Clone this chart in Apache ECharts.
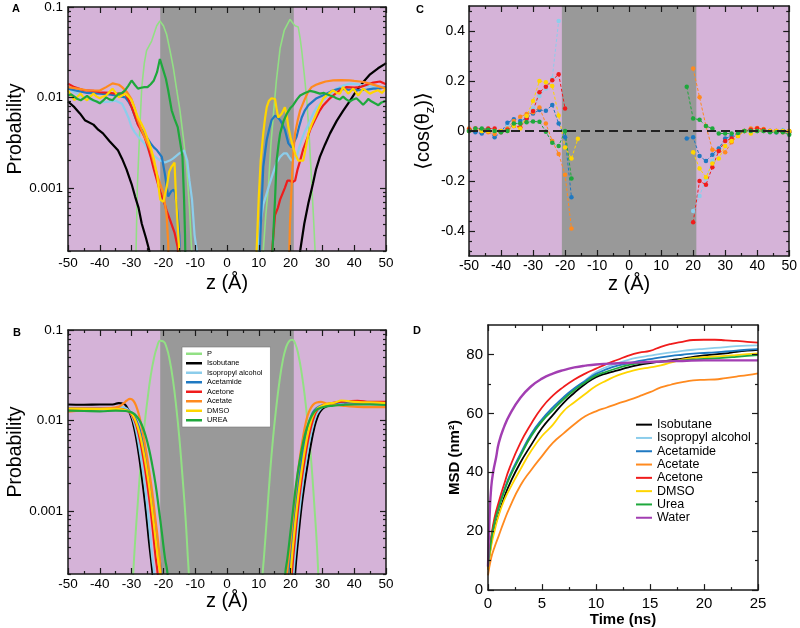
<!DOCTYPE html>
<html><head><meta charset="utf-8">
<script src="https://cdn.jsdelivr.net/npm/echarts@6/dist/echarts.min.js"></script>
<style>html,body{margin:0;padding:0;background:#fff}#c{width:800px;height:628px}</style>
</head><body><div id="c"></div>
<script>
// ---------------- colours ----------------
const C_P='#92e084', C_ISO='#000000', C_IPA='#8ccdeb', C_AMD='#1f79c2', C_ACN='#f01c1c', C_ACT='#ff8a1f', C_DMSO='#ffd500', C_UREA='#1ea83c', C_WAT='#a23eb2';
const PURPLE='#d5b3d8', GRAY='#999999';
const BAND=[-21,21];
// ---------------- tick / label values ----------------
const LOG_MAJOR=[0.001,0.01,0.1];
const LOG_MINOR=[0.0002,0.0003,0.0004,0.0005,0.0006,0.0007,0.0008,0.0009,0.002,0.003,0.004,0.005,0.006,0.007,0.008,0.009,0.02,0.03,0.04,0.05,0.06,0.07,0.08,0.09];
const C_Y_MAJOR=[-0.4,-0.2,0,0.2,0.4];
const C_Y_MINOR=[-0.48,-0.44,-0.36,-0.32,-0.28,-0.24,-0.16,-0.12,-0.08,-0.04,0.04,0.08,0.12,0.16,0.24,0.28,0.32,0.36,0.44,0.48];
const D_Y_MAJOR=[0,20,40,60,80];
const D_Y_MINOR=[10,30,50,70];
const B_LEGEND=['P','Isobutane','Isopropyl alcohol','Acetamide','Acetone','Acetate','DMSO','UREA'];
const D_LEGEND=['Isobutane','Isopropyl alcohol','Acetamide','Acetate','Acetone','DMSO','Urea','Water'];

// ---------------- Panel A : probability vs z ----------------
const A_P=[[-29,0.0001],[-28.6,0.0002],[-28.2,0.001],[-27.4,0.0047],[-26.8,0.013],[-26,0.024],[-25.3,0.033],[-23.7,0.042],[-22.1,0.062],[-21.1,0.07],[-20,0.062],[-19,0.05],[-18,0.034],[-16.9,0.0215],[-15.8,0.012],[-14.8,0.0072],[-13.7,0.0035],[-12.7,0.0017],[-11.8,0.0006],[-11.1,0.0002],[-10.8,0.0001],
 [11,0.0001],[11.4,0.0002],[12.2,0.0005],[13,0.001],[13.8,0.003],[14.6,0.0065],[15.5,0.015],[16.7,0.035],[18,0.055],[19.8,0.073],[20.5,0.068],[21.4,0.062],[22.4,0.06],[23,0.045],[23.5,0.033],[24.3,0.018],[25.1,0.0093],[25.8,0.004],[26.6,0.0012],[27.3,0.0004],[27.7,0.0002],[28,0.0001]];
const A_ISO=[[-50,0.009],[-49.4,0.0088],[-48,0.0078],[-46.2,0.0066],[-44.7,0.0056],[-42,0.005],[-40.5,0.0044],[-39,0.004],[-37,0.0033],[-34.3,0.0026],[-33,0.0021],[-31.6,0.0016],[-30,0.0011],[-28.9,0.0008],[-27.8,0.0006],[-26.8,0.0004],[-25.5,0.00028],[-24.4,0.0002],[-24,0.0001],
 [22.5,0.0001],[23,0.0002],[24.3,0.0004],[25.6,0.00068],[27,0.0011],[28,0.0016],[29.2,0.0022],[30.8,0.003],[32.4,0.004],[34.5,0.0055],[36.5,0.0071],[38.5,0.009],[40.8,0.012],[43,0.015],[45,0.018],[47.5,0.021],[49.7,0.0235],[50,0.024]];
const A_IPA=[[-50,0.0125],[-47,0.011],[-45,0.0099],[-42,0.0092],[-40,0.0088],[-37,0.009],[-35,0.0092],[-33,0.0085],[-32,0.0072],[-31,0.006],[-30,0.0047],[-29,0.0041],[-28,0.0037],[-27,0.0034],[-26,0.0031],[-25,0.0027],[-24,0.0024],[-22.5,0.0022],[-21,0.002],[-19.5,0.0019],[-18,0.002],[-17,0.0021],[-15,0.0024],[-13.5,0.0026],[-12.5,0.002],[-11.8,0.0012],[-11,0.00074],[-10.2,0.0003],[-9.5,0.0002],[-9.3,0.0001],
 [9.6,0.0001],[9.8,0.0002],[10.5,0.0004],[11.4,0.00065],[13,0.001],[14.6,0.0015],[15.6,0.0019],[16.7,0.0022],[17.8,0.0024],[18.8,0.0024],[19.5,0.0022],[20.3,0.002],[21.1,0.0021],[21.9,0.0022],[22.7,0.0028],[23.5,0.0034],[24.5,0.0042],[25.6,0.005],[27,0.0065],[28.2,0.0078],[30.8,0.0098],[32.5,0.011],[34.4,0.0125],[36.5,0.0135],[38.6,0.0142],[41,0.014],[43.9,0.0133],[47,0.013],[50,0.0128]];
const A_AMD=[[-50,0.0125],[-47,0.0118],[-44,0.0112],[-40,0.011],[-37,0.0108],[-35,0.0105],[-32,0.01],[-31,0.009],[-30,0.0078],[-29,0.0062],[-28,0.005],[-27,0.0045],[-26,0.004],[-25,0.0035],[-24,0.0031],[-23,0.0028],[-22,0.0026],[-20.5,0.0022],[-19.5,0.0014],[-18.5,0.0008],[-17.5,0.00092],[-16.8,0.00095],[-16.3,0.00088],[-15.5,0.0005],[-15,0.0003],[-14.6,0.0001],
 [10.1,0.0001],[10.5,0.0003],[11,0.0008],[11.4,0.0017],[12,0.0025],[12.5,0.0034],[13.3,0.0045],[14,0.0056],[15.1,0.0063],[16,0.006],[16.7,0.0056],[17.5,0.005],[18.2,0.0044],[19.3,0.0031],[20.3,0.0028],[21.1,0.0032],[21.9,0.0037],[22.7,0.0048],[23.5,0.006],[24.5,0.0072],[25.6,0.0082],[28.2,0.0098],[31.3,0.011],[33,0.0118],[35.5,0.0125],[38,0.0122],[41.8,0.012],[44,0.0122],[46,0.0125],[48,0.0126],[50,0.013]];
const A_ACN=[[-50,0.0142],[-48,0.013],[-45,0.012],[-42,0.0118],[-40,0.0114],[-37,0.0112],[-35,0.011],[-32,0.011],[-31,0.0095],[-30,0.0078],[-29,0.0063],[-28,0.005],[-27,0.0043],[-26,0.0037],[-25,0.0029],[-24,0.0022],[-23,0.0016],[-22,0.0012],[-21,0.0009],[-20,0.00074],[-19,0.00056],[-18,0.00045],[-16.5,0.00032],[-15.5,0.00022],[-15,0.0001],
 [13.5,0.0001],[14.6,0.0003],[15.1,0.0005],[16,0.0006],[16.7,0.00074],[18.2,0.001],[19,0.0012],[19.8,0.0012],[20.5,0.00115],[21.4,0.0012],[22.2,0.0016],[23,0.002],[24,0.0027],[25.1,0.0034],[26.3,0.0045],[27.6,0.0056],[29,0.007],[30.3,0.0082],[32,0.0095],[33.4,0.0105],[35.5,0.012],[37.6,0.013],[40,0.0128],[41.8,0.013],[44,0.0138],[46,0.0146],[48.1,0.015],[50,0.014]];
const A_ACT=[[-50,0.013],[-47,0.0125],[-44,0.012],[-40,0.0119],[-38,0.013],[-36,0.0143],[-34,0.0138],[-33,0.013],[-31.5,0.0115],[-30,0.0095],[-29,0.0075],[-28,0.0056],[-27,0.0045],[-26,0.0037],[-25,0.0031],[-24,0.0026],[-23,0.0019],[-22,0.0014],[-21,0.0011],[-20,0.00088],[-19,0.0005],[-18.5,0.00025],[-18.2,0.0001],
 [19.4,0.0001],[19.8,0.0004],[20.3,0.001],[20.6,0.0017],[21,0.0028],[21.4,0.004],[22.2,0.0055],[23,0.0072],[24.6,0.0098],[25.5,0.0115],[26.6,0.013],[28,0.0138],[29.2,0.0143],[31,0.015],[33.4,0.0154],[36,0.0155],[38.6,0.0154],[40,0.0152],[41.8,0.015],[43,0.0148],[44.9,0.0142],[47,0.0135],[50,0.0125]];
const A_DMSO=[[-50,0.012],[-49,0.0105],[-48,0.0093],[-47,0.0102],[-46,0.011],[-45,0.0098],[-44,0.0093],[-43,0.0102],[-42,0.011],[-41,0.0102],[-40,0.0098],[-39,0.0102],[-38,0.0105],[-37,0.0115],[-36,0.0125],[-35,0.0112],[-34,0.01],[-33,0.0105],[-32,0.011],[-31,0.0102],[-30,0.0093],[-29,0.0075],[-28,0.006],[-27,0.0052],[-26,0.0044],[-25,0.0035],[-24,0.0028],[-23,0.0021],[-22,0.0014],[-21,0.00074],[-20,0.0007],[-19,0.001],[-18.2,0.0015],[-17.5,0.0017],[-16.5,0.0019],[-16,0.00074],[-15.5,0.00038],[-15,0.0002],[-14.7,0.0001],
 [9.1,0.0001],[9.3,0.0002],[10,0.0008],[10.6,0.002],[11.4,0.004],[12,0.006],[12.5,0.0078],[13.2,0.0092],[14,0.0098],[15.1,0.0096],[15.6,0.0075],[16.1,0.006],[17.2,0.0066],[18.2,0.0078],[18.8,0.0062],[19.3,0.0047],[20,0.0036],[20.8,0.0028],[21.6,0.0023],[22.4,0.002],[24,0.002],[24.8,0.0028],[25.6,0.004],[26.6,0.005],[27.6,0.006],[29,0.0078],[30.3,0.0098],[32,0.011],[33.4,0.012],[34.5,0.0112],[35.5,0.011],[36.5,0.013],[38.1,0.011],[39.7,0.0125],[41.3,0.0105],[42.8,0.0125],[44.9,0.011],[46,0.0115],[47.5,0.012],[48.7,0.0112],[50,0.0125]];
const A_UREA=[[-50,0.0105],[-49,0.0108],[-48,0.0102],[-47,0.0096],[-46,0.0093],[-45,0.0098],[-44,0.0104],[-43,0.0097],[-42,0.0093],[-41,0.009],[-40,0.0086],[-39,0.0092],[-38,0.01],[-37,0.0095],[-36,0.0093],[-35,0.0102],[-34,0.011],[-33,0.0112],[-32,0.012],[-31,0.0135],[-30,0.0154],[-29,0.0138],[-28,0.0125],[-27,0.0128],[-26,0.013],[-25,0.013],[-24,0.014],[-23,0.0154],[-22,0.019],[-21.1,0.0266],[-20,0.0198],[-19.2,0.016],[-18.5,0.012],[-17.4,0.0072],[-16.5,0.0058],[-15.5,0.0047],[-14.8,0.0033],[-14,0.0022],[-13.5,0.00074],[-13.2,0.0003],[-13,0.0001],
 [14,0.0001],[14.3,0.0002],[15.1,0.00074],[15.6,0.002],[16.2,0.003],[16.7,0.004],[17.8,0.0055],[18.8,0.0066],[20,0.0077],[20.8,0.0082],[22,0.0095],[23,0.0105],[24.5,0.0112],[26.1,0.0118],[27.5,0.0115],[29.2,0.011],[30.5,0.0112],[32.4,0.0105],[33.5,0.0102],[34.4,0.0098],[35.5,0.0095],[36.5,0.0102],[37.5,0.0095],[38.6,0.009],[39.7,0.0095],[40.7,0.0098],[41.8,0.009],[42.8,0.0083],[43.8,0.009],[44.4,0.0096],[45.5,0.009],[46.5,0.0086],[47.6,0.0082],[48.6,0.0088],[50,0.0092]];

// ---------------- Panel B : probability vs z (smooth) ----------------
const B_P=[[-30,0.0001],[-29.5,0.0002],[-29,0.0004],[-28,0.0013],[-27,0.0037],[-26,0.0085],[-25,0.017],[-24,0.031],[-23,0.048],[-22,0.065],[-21,0.076],[-20,0.075],[-19,0.064],[-18,0.046],[-17,0.028],[-16,0.0145],[-15,0.0065],[-14,0.0024],[-13,0.0008],[-12.3,0.0003],[-12,0.0002],[-11.6,0.0001],
 [10.8,0.0001],[11.2,0.0002],[11.6,0.0003],[12.5,0.0008],[13.5,0.0025],[14.5,0.0065],[15.5,0.014],[16.5,0.027],[17.5,0.045],[18.5,0.063],[19.5,0.075],[20.5,0.078],[21.5,0.07],[22.5,0.052],[23.5,0.033],[24.5,0.018],[25.5,0.0085],[26.5,0.0035],[27.5,0.0011],[28.3,0.0004],[28.7,0.0002],[29,0.0001]];
const B_ISO=[[-50,0.015],[-45,0.0149],[-40,0.015],[-36,0.015],[-34,0.0155],[-32.5,0.0153],[-31.5,0.014],[-30.5,0.012],[-29.5,0.0092],[-28.5,0.0062],[-27.5,0.0037],[-26.5,0.002],[-25.5,0.001],[-24.5,0.00045],[-23.4,0.0002],[-23,0.00012],
 [21.1,0.00012],[21.4,0.0002],[22.4,0.0005],[23.4,0.0011],[24.4,0.002],[25.4,0.0034],[26.4,0.0055],[27.4,0.0082],[28.4,0.0108],[29.4,0.0127],[31,0.0142],[34,0.015],[38,0.0158],[42,0.0158],[50,0.0155]];
const B_IPA=[[-50,0.0138],[-40,0.0136],[-35,0.0137],[-33,0.014],[-31.5,0.0135],[-30.5,0.0123],[-29.5,0.0102],[-28.5,0.0075],[-27.5,0.0048],[-26.5,0.0028],[-25.5,0.0015],[-24.5,0.0007],[-23.5,0.0003],[-22.9,0.0002],[-22.6,0.00012],
 [20.6,0.00012],[20.9,0.0002],[21.9,0.0005],[22.9,0.0011],[23.9,0.0021],[24.9,0.0036],[25.9,0.0058],[26.9,0.0084],[27.9,0.011],[28.9,0.0128],[30.5,0.0143],[33,0.0152],[37,0.0158],[42,0.016],[50,0.0155]];
const B_AMD=[[-50,0.0135],[-40,0.0134],[-34,0.0133],[-32,0.0131],[-30.5,0.0126],[-29.5,0.0116],[-28.5,0.01],[-27.5,0.008],[-26.5,0.0058],[-25.5,0.0039],[-24.5,0.0024],[-23.5,0.0013],[-22.5,0.00068],[-21.5,0.00034],[-20.6,0.0002],[-20.3,0.00012],
 [19.2,0.00012],[19.5,0.0002],[20.5,0.0005],[21.5,0.0011],[22.5,0.0021],[23.5,0.0037],[24.5,0.006],[25.5,0.0087],[26.5,0.0112],[27.5,0.013],[29,0.0143],[31,0.015],[34,0.0155],[37,0.016],[40,0.016],[45,0.0158],[50,0.0155]];
const B_ACN=[[-50,0.0135],[-40,0.0135],[-34,0.0134],[-32,0.013],[-30.5,0.0122],[-29.5,0.0108],[-28.5,0.0088],[-27.5,0.0064],[-26.5,0.0042],[-25.5,0.0025],[-24.5,0.0014],[-23.5,0.0007],[-22.5,0.00032],[-21.8,0.0002],[-21.5,0.00012],
 [20.1,0.00012],[20.4,0.0002],[21.4,0.0005],[22.4,0.0011],[23.4,0.0021],[24.4,0.0036],[25.4,0.0058],[26.4,0.0084],[27.4,0.011],[28.4,0.013],[30,0.0145],[32,0.0153],[35,0.016],[38,0.0163],[41,0.0165],[45,0.016],[50,0.016]];
const B_ACT=[[-50,0.0125],[-45,0.013],[-40,0.0133],[-36,0.0138],[-34,0.0142],[-32.5,0.0155],[-31.5,0.0166],[-30.5,0.0173],[-29.5,0.0166],[-28.5,0.0142],[-27.5,0.0108],[-26.5,0.0074],[-25.5,0.0047],[-24.5,0.0028],[-23.5,0.0016],[-22.5,0.0008],[-21.5,0.0004],[-20.8,0.0002],[-20.5,0.00012],
 [18.6,0.00012],[18.9,0.0002],[19.8,0.0004],[20.8,0.0009],[21.8,0.0019],[22.8,0.0036],[23.8,0.0062],[24.8,0.0095],[25.8,0.0125],[27,0.0148],[28.2,0.0158],[29.5,0.016],[31,0.0155],[33,0.015],[36,0.0146],[40,0.0142],[45,0.014],[50,0.014]];
const B_DMSO=[[-50,0.0135],[-40,0.0134],[-34,0.0133],[-32,0.013],[-30.5,0.0124],[-29.5,0.0112],[-28.5,0.0094],[-27.5,0.0072],[-26.5,0.005],[-25.5,0.0032],[-24.5,0.0019],[-23.5,0.001],[-22.5,0.0005],[-21.5,0.00026],[-21,0.0002],[-20.7,0.00012],
 [19.7,0.00012],[20,0.0002],[21,0.0005],[22,0.0011],[23,0.0021],[24,0.0037],[25,0.006],[26,0.0087],[27,0.0112],[28,0.013],[29.5,0.0143],[31.5,0.0152],[34,0.0158],[36,0.0166],[40,0.016],[45,0.0158],[50,0.0155]];
const B_UREA=[[-50,0.0128],[-45,0.0127],[-40,0.0126],[-35,0.0128],[-32,0.0127],[-30.5,0.0124],[-29.5,0.012],[-28.5,0.0112],[-27.5,0.01],[-26.5,0.0084],[-25.5,0.0066],[-24.5,0.0048],[-23.5,0.0032],[-22.5,0.002],[-21.5,0.0011],[-20.5,0.00058],[-19.5,0.0003],[-18.7,0.0002],[-18.4,0.00012],
 [18.0,0.00012],[18.3,0.0002],[19,0.0003],[20,0.0006],[21,0.0012],[22,0.0023],[23,0.0038],[24,0.0058],[25,0.008],[26,0.01],[27,0.0118],[28,0.013],[29.5,0.0138],[31,0.0142],[33,0.0145],[36,0.0148],[40,0.015],[45,0.015],[50,0.0148]];

// ---------------- Panel C : <cos(theta_z)> vs z ----------------
const C_IPA_L=[[-50,0.0],[-48,0.005],[-46,0.0],[-44,0.0],[-42,0.005],[-40,0.0],[-38,0.02],[-36,0.03],[-34,0.04],[-32,0.06],[-30,0.09],[-28,0.14],[-26,0.17],[-24,0.21],[-22,0.44]];
const C_IPA_R=[[20,-0.32],[22,-0.26],[24,-0.19],[26,-0.12],[28,-0.07],[30,-0.04],[32,-0.02],[34,-0.01],[36,0.0],[38,0.0],[40,0.0],[42,0.0],[44,0.0],[46,0.0],[48,0.005],[50,0.0]];
const C_AMD_L=[[-50,0.0],[-48,-0.005],[-46,-0.01],[-44,0.0],[-42,-0.025],[-40,-0.005],[-38,0.033],[-36,0.047],[-34,0.04],[-32,0.05],[-30,0.07],[-28,0.084],[-26,0.081],[-24,0.104],[-22,0.03],[-20,-0.025],[-18,-0.265]];
const C_AMD_R=[[18,-0.03],[20,-0.025],[22,-0.1],[24,-0.12],[26,-0.095],[28,-0.07],[30,-0.03],[32,-0.02],[34,-0.012],[36,0.0],[38,0.005],[40,0.0],[42,0.0],[44,0.0],[46,-0.005],[48,0.0],[50,-0.005]];
const C_ACT_L=[[-50,0.01],[-48,0.005],[-46,0.0],[-44,-0.005],[-42,-0.012],[-40,-0.005],[-38,0.01],[-36,0.04],[-34,0.057],[-32,0.068],[-30,0.075],[-28,0.094],[-26,0.03],[-24,-0.04],[-22,-0.092],[-20,-0.175],[-18,-0.39]];
const C_ACT_R=[[20,0.25],[22,0.135],[24,0.02],[26,-0.075],[28,-0.08],[30,-0.085],[32,-0.045],[34,-0.02],[36,0.0],[38,0.01],[40,0.012],[42,0.008],[44,0.0],[46,0.0],[48,-0.005],[50,-0.005]];
const C_ACN_L=[[-50,0.005],[-48,0.01],[-46,0.005],[-44,0.01],[-42,0.01],[-40,0.0],[-38,0.005],[-36,0.02],[-34,0.015],[-32,0.05],[-30,0.08],[-28,0.155],[-26,0.177],[-24,0.203],[-22,0.227],[-20,0.09]];
const C_ACN_R=[[20,-0.365],[22,-0.2],[24,-0.215],[26,-0.145],[28,-0.08],[30,-0.04],[32,-0.03],[34,-0.01],[36,0.0],[38,0.005],[40,0.01],[42,0.005],[44,0.0],[46,0.0],[48,0.0],[50,0.0]];
const C_DMSO_L=[[-50,0.0],[-48,0.005],[-46,0.0],[-44,0.0],[-42,0.0],[-40,0.0],[-38,0.0],[-36,0.02],[-34,0.01],[-32,0.06],[-30,0.12],[-28,0.2],[-26,0.195],[-24,0.18],[-22,0.062],[-20,-0.066],[-18,-0.11],[-16,-0.031]];
const C_DMSO_R=[[20,-0.085],[22,-0.15],[24,-0.185],[26,-0.13],[28,-0.11],[30,-0.06],[32,-0.04],[34,-0.02],[36,0.0],[38,-0.01],[40,0.0],[42,0.0],[44,0.0],[46,0.0],[48,0.0],[50,0.0]];
const C_UREA_L=[[-50,0.0],[-48,0.01],[-46,0.01],[-44,0.005],[-42,0.0],[-40,-0.005],[-38,0.0],[-36,0.03],[-34,0.03],[-32,0.035],[-30,0.038],[-28,0.037],[-26,-0.003],[-24,-0.047],[-22,-0.06],[-20,0.0],[-18,-0.19]];
const C_UREA_R=[[18,0.177],[20,0.05],[22,0.045],[24,0.02],[26,0.01],[28,-0.01],[30,-0.01],[32,-0.01],[34,-0.008],[36,0.0],[38,0.0],[40,0.0],[42,0.0],[44,-0.005],[46,-0.005],[48,-0.005],[50,-0.015]];

// ---------------- Panel D : MSD vs time ----------------
const D_ISO=[[0,7],[0.3,16],[0.6,21],[1,26],[1.5,31.5],[2,36],[3,43.3],[4,49.3],[5,55],[6,59.4],[7,63.6],[8,67],[9,70],[10,72.3],[11,73.6],[12,74.6],[13,75.6],[14,76.5],[15,77.1],[16,77.6],[17,78.1],[18,78.6],[19,79.2],[20,79.7],[21,80],[22,80.4],[23,80.9],[24,81.3],[25,81.6]];
const D_IPA=[[0,8],[0.3,17],[0.6,23],[1,28],[1.5,33.5],[2,38.5],[3,45.8],[4,52.2],[5,57.4],[6,61.5],[7,65],[8,68.3],[9,71.2],[10,74],[11,75.8],[12,77],[13,78.2],[14,79],[15,79.6],[16,80.2],[17,80.7],[18,81.2],[19,81.6],[20,81.9],[21,82.2],[22,82.5],[23,82.8],[24,83],[25,83.1]];
const D_AMD=[[0,8],[0.3,17.5],[0.6,23.5],[1,28.7],[1.5,34],[2,38.8],[3,46.2],[4,53],[5,58],[6,62],[7,65.5],[8,68.5],[9,71],[10,73.4],[11,75],[12,76.2],[13,77],[14,77.8],[15,78.4],[16,79],[17,79.5],[18,79.9],[19,80.3],[20,80.5],[21,80.7],[22,81],[23,81.3],[24,81.6],[25,81.8]];
const D_ACT=[[0,5],[0.3,11],[0.6,14.5],[1,18.5],[1.5,23.5],[2,28],[3,35.5],[4,40.8],[5,45.5],[6,50],[7,53.2],[8,56.3],[9,59],[10,60.7],[11,62],[12,63.3],[13,64.5],[14,65.8],[15,67.2],[16,68.8],[17,69.8],[18,70.6],[19,71.2],[20,71.4],[21,71.5],[22,72],[23,72.5],[24,73],[25,73.6]];
const D_ACN=[[0,8],[0.3,18],[0.6,24.5],[1,30],[1.5,36],[2,41.5],[3,50],[4,56.5],[5,62],[6,66],[7,69],[8,71.5],[9,73.5],[10,75.2],[11,76.8],[12,78.2],[13,79.6],[14,80.6],[15,81.2],[16,82.6],[17,83.6],[18,84.3],[19,84.9],[20,85],[21,85],[22,84.8],[23,84.6],[24,84.3],[25,84]];
const D_DMSO=[[0,7],[0.3,15],[0.6,20],[1,25.5],[1.5,30.5],[2,34.3],[3,41],[4,47.3],[5,52.3],[6,56.1],[7,60.8],[8,63.8],[9,66.6],[10,69.3],[11,71.2],[12,72.9],[13,74.1],[14,75],[15,75.6],[16,76.3],[17,77.3],[18,78.3],[19,78.8],[20,79.1],[21,79.3],[22,79.5],[23,79.8],[24,80.1],[25,80.4]];
const D_UREA=[[0,8],[0.3,17],[0.6,23],[1,28],[1.5,33.5],[2,38.2],[3,45.5],[4,52.3],[5,57.3],[6,61.1],[7,64.8],[8,67.9],[9,70.5],[10,72.8],[11,74.2],[12,75.4],[13,76.4],[14,77.1],[15,77.4],[16,77.6],[17,77.8],[18,78],[19,78.3],[20,78.5],[21,78.7],[22,78.9],[23,79.2],[24,79.5],[25,79.8]];
const D_WAT=[[0,8],[0.15,25],[0.3,35],[0.5,40.5],[0.75,45],[1,50],[1.5,55.5],[2,59.5],[3,65.3],[4,69.2],[5,71.8],[6,73.5],[7,74.7],[8,75.6],[9,76.2],[10,76.6],[12,77],[14,77.3],[16,77.6],[18,77.8],[20,78],[22,78],[25,78]];

// ---------------- build chart ----------------
const FONT="'Liberation Sans', Arial, 'DejaVu Sans', sans-serif";
const INK='#1a1a1a';
const LINE={show:true,onZero:false,lineStyle:{color:INK,width:1.5}};
const NOLINE={show:false,onZero:false};
const TICK={color:INK,width:1.2};
const xAxis=[], yAxis=[];
function push(arr,cfg){arr.push(cfg);return arr.length-1;}
function valX(grid,pos,o){
  return push(xAxis,{gridIndex:grid,type:'value',position:pos,min:o.min,max:o.max,interval:o.interval,z:10,
    axisLine:LINE,axisTick:{show:true,inside:true,length:6,lineStyle:TICK},
    minorTick:{show:true,splitNumber:o.minor,length:3,lineStyle:TICK},
    axisLabel:{show:pos==='bottom',fontSize:o.fs,color:'#000',fontFamily:FONT,margin:o.margin},
    splitLine:{show:false},minorSplitLine:{show:false},
    name:pos==='bottom'?o.name:'',nameLocation:'middle',nameGap:o.nameGap,
    nameTextStyle:Object.assign({color:'#000',fontFamily:FONT},o.nameStyle||{})});
}
function custY(grid,pos,o){
  const base={gridIndex:grid,type:o.type,min:o.min,max:o.max,position:pos,z:10,splitLine:{show:false},minorSplitLine:{show:false}};
  if(o.type==='log') base.logBase=10;
  const main=push(yAxis,Object.assign({},base,{
    axisLine:LINE,axisTick:{show:true,inside:true,length:6,customValues:o.major,lineStyle:TICK},
    axisLabel:{show:pos==='left',customValues:o.major,formatter:o.fmt,fontSize:o.fs,color:'#000',fontFamily:FONT,margin:o.margin},
    name:pos==='left'?o.name:'',nameLocation:'middle',nameRotate:90,nameGap:o.nameGap,
    nameTextStyle:Object.assign({color:'#000',fontFamily:FONT},o.nameStyle||{})}));
  push(yAxis,Object.assign({},base,{axisLine:NOLINE,
    axisTick:{show:true,inside:true,length:3,customValues:o.minor,lineStyle:TICK},axisLabel:{show:false},name:''}));
  return main;
}
const logFmt=v=>String(Number(Number(v).toPrecision(2)));
const zName={fontSize:20};
// grids: 0=A, 1=C, 2=B, 3=D
const grid=[
  {left:68,top:6,width:318,height:245,show:true,backgroundColor:PURPLE,borderWidth:0},
  {left:469,top:6,width:323,height:250,show:true,backgroundColor:PURPLE,borderWidth:0},
  {left:68,top:330,width:318,height:244,show:true,backgroundColor:PURPLE,borderWidth:0},
  {left:488,top:325,width:270,height:269,show:true,backgroundColor:'#fff',borderWidth:0}
];
const ax={};
// A
ax.Ax=valX(0,'bottom',{min:-50,max:50,interval:10,minor:2,fs:13.5,margin:5,name:'z (Å)',nameGap:22,nameStyle:zName});
valX(0,'top',{min:-50,max:50,interval:10,minor:2});
ax.Ay=custY(0,'left',{type:'log',min:0.0002,max:0.1,major:LOG_MAJOR,minor:LOG_MINOR,fmt:logFmt,fs:13.5,margin:5,name:'Probability',nameGap:38,nameStyle:{fontSize:19.5}});
custY(0,'right',{type:'log',min:0.0002,max:0.1,major:LOG_MAJOR,minor:LOG_MINOR});
// C
ax.Cx=valX(1,'bottom',{min:-50,max:50,interval:10,minor:2,fs:14,margin:3,name:'z (Å)',nameGap:18,nameStyle:zName});
valX(1,'top',{min:-50,max:50,interval:10,minor:2});
ax.Cy=custY(1,'left',{type:'value',min:-0.5,max:0.5,major:C_Y_MAJOR,minor:C_Y_MINOR,fmt:v=>String(Number(Number(v).toFixed(1))),fs:14,margin:4,
  name:'⟨cos(θ{s|z})⟩',nameGap:32,nameStyle:{fontSize:20,lineHeight:26,rich:{s:{fontSize:13,verticalAlign:'bottom',lineHeight:26,fontFamily:FONT}}}});
custY(1,'right',{type:'value',min:-0.5,max:0.5,major:C_Y_MAJOR,minor:C_Y_MINOR});
// B
ax.Bx=valX(2,'bottom',{min:-50,max:50,interval:10,minor:2,fs:13.5,margin:3,name:'z (Å)',nameGap:14,nameStyle:zName});
valX(2,'top',{min:-50,max:50,interval:10,minor:2});
ax.By=custY(2,'left',{type:'log',min:0.0002,max:0.1,major:LOG_MAJOR,minor:LOG_MINOR,fmt:logFmt,fs:13.5,margin:5,name:'Probability',nameGap:38,nameStyle:{fontSize:19.5}});
custY(2,'right',{type:'log',min:0.0002,max:0.1,major:LOG_MAJOR,minor:LOG_MINOR});
// D
ax.Dx=valX(3,'bottom',{min:0,max:25,interval:5,minor:2,fs:15,margin:6,name:'Time (ns)',nameGap:17,nameStyle:{fontSize:15,fontWeight:'bold'}});
valX(3,'top',{min:0,max:25,interval:5,minor:2});
ax.Dy=custY(3,'left',{type:'value',min:0,max:90,major:D_Y_MAJOR,minor:D_Y_MINOR,fmt:v=>String(v),fs:15,margin:5,name:'MSD (nm²)',nameGap:18,nameStyle:{fontSize:15,fontWeight:'bold'}});
custY(3,'right',{type:'value',min:0,max:90,major:D_Y_MAJOR,minor:D_Y_MINOR});

const series=[];
function band(xi,yi){
  series.push({type:'line',xAxisIndex:xi,yAxisIndex:yi,data:[],silent:true,z:1,
    markArea:{silent:true,itemStyle:{color:GRAY},data:[[{xAxis:BAND[0]},{xAxis:BAND[1]}]]}});
}
function line(name,xi,yi,data,color,w,smooth){
  series.push({type:'line',name:name,xAxisIndex:xi,yAxisIndex:yi,data:data,showSymbol:false,symbol:'none',
    smooth:smooth||false,clip:true,z:3,lineStyle:{color:color,width:w},itemStyle:{color:color},emphasis:{disabled:true}});
}
function dots(name,xi,yi,data,color){
  series.push({type:'line',name:name,xAxisIndex:xi,yAxisIndex:yi,data:data,symbol:'circle',symbolSize:4.5,showSymbol:true,
    clip:true,z:3,lineStyle:{color:color,width:1,type:[3,2]},itemStyle:{color:color},emphasis:{disabled:true}});
}
// A
band(ax.Ax,ax.Ay);
[['P',A_P,C_P,1.6],['Isobutane',A_ISO,C_ISO,2.2],['Isopropyl alcohol',A_IPA,C_IPA,2.2],['Acetamide',A_AMD,C_AMD,2.2],
 ['Acetone',A_ACN,C_ACN,2.2],['Acetate',A_ACT,C_ACT,2.2],['DMSO',A_DMSO,C_DMSO,2.2],['UREA',A_UREA,C_UREA,2.2]]
 .forEach(s=>line(s[0],ax.Ax,ax.Ay,s[1],s[2],s[3]));
// B
band(ax.Bx,ax.By);
[['P',B_P,C_P,2],['Isobutane',B_ISO,C_ISO,2.2],['Isopropyl alcohol',B_IPA,C_IPA,2.2],['Acetamide',B_AMD,C_AMD,2.2],
 ['Acetone',B_ACN,C_ACN,2.2],['Acetate',B_ACT,C_ACT,2.2],['DMSO',B_DMSO,C_DMSO,2.2],['UREA',B_UREA,C_UREA,2.2]]
 .forEach(s=>line(s[0],ax.Bx,ax.By,s[1],s[2],s[3],true));
// C
band(ax.Cx,ax.Cy);
series.push({type:'line',xAxisIndex:ax.Cx,yAxisIndex:ax.Cy,data:[],silent:true,z:2,
  markLine:{silent:true,symbol:['none','none'],label:{show:false},lineStyle:{color:'#222',type:[9,5],width:2},data:[{yAxis:0}]}});
[['Isopropyl alcohol',C_IPA_L,C_IPA_R,C_IPA],['Acetamide',C_AMD_L,C_AMD_R,C_AMD],['Acetate',C_ACT_L,C_ACT_R,C_ACT],
 ['Acetone',C_ACN_L,C_ACN_R,C_ACN],['DMSO',C_DMSO_L,C_DMSO_R,C_DMSO],['UREA',C_UREA_L,C_UREA_R,C_UREA]]
 .forEach(s=>{dots(s[0],ax.Cx,ax.Cy,s[1],s[3]);dots(s[0],ax.Cx,ax.Cy,s[2],s[3]);});
// D
[['Isobutane',D_ISO,C_ISO],['Isopropyl alcohol',D_IPA,C_IPA],['Acetamide',D_AMD,C_AMD],['Acetate',D_ACT,C_ACT],
 ['Acetone',D_ACN,C_ACN],['DMSO',D_DMSO,C_DMSO],['Urea',D_UREA,C_UREA],['Water',D_WAT,C_WAT]]
 .forEach(s=>line(s[0],ax.Dx,ax.Dy,s[1],s[2],s[0]==='Water'?2.4:1.8,true));

const option={
  animation:false,backgroundColor:'#fff',textStyle:{fontFamily:FONT},
  grid:grid,xAxis:xAxis,yAxis:yAxis,series:series,
  legend:[
    {data:B_LEGEND,orient:'vertical',left:182,top:347,padding:[2,8,2,4],backgroundColor:'#fff',borderColor:'#777',borderWidth:0.6,
     itemWidth:16,itemHeight:2.5,itemGap:0,icon:'rect',selectedMode:false,
     textStyle:{fontSize:7.4,lineHeight:9.5,color:'#000',fontFamily:FONT}},
    {data:D_LEGEND,orient:'vertical',left:636,top:418,padding:0,itemWidth:16,itemHeight:2,itemGap:0,icon:'rect',selectedMode:false,
     textStyle:{fontSize:12.5,lineHeight:13.3,color:'#000',fontFamily:FONT}}
  ],
  graphic:[
    {type:'text',left:12,top:3,style:{text:'A',font:"bold 11px 'Liberation Sans', Arial",fill:'#000'}},
    {type:'text',left:416,top:4,style:{text:'C',font:"bold 11px 'Liberation Sans', Arial",fill:'#000'}},
    {type:'text',left:13,top:327,style:{text:'B',font:"bold 11px 'Liberation Sans', Arial",fill:'#000'}},
    {type:'text',left:413,top:325,style:{text:'D',font:"bold 11px 'Liberation Sans', Arial",fill:'#000'}}
  ]
};
const chart=echarts.init(document.getElementById('c'),null,{renderer:'canvas',width:800,height:628});
chart.setOption(option);
</script></body></html>
